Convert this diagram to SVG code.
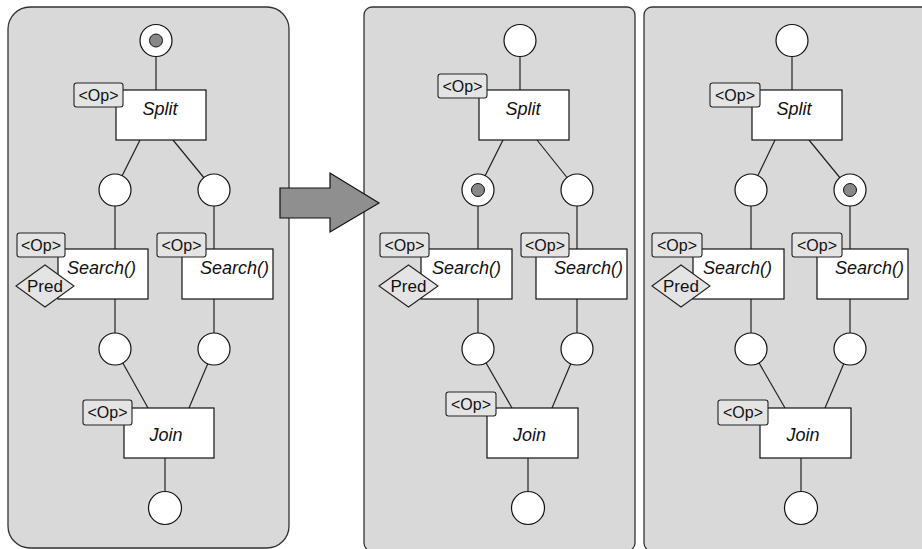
<svg xmlns="http://www.w3.org/2000/svg" width="922" height="549" viewBox="0 0 922 549">
<style>
.panel{fill:#d9d9d9;stroke:#333;stroke-width:1.3}
.box{fill:#fff;stroke:#111;stroke-width:1.2}
.tag{fill:#e4e4e4;stroke:#222;stroke-width:1.1}
.place{fill:#fff;stroke:#111;stroke-width:1.2}
.tok{fill:#888;stroke:#111;stroke-width:1}
.conn line{stroke:#222;stroke-width:1.2}
.lbl{font-family:"Liberation Sans",Arial,sans-serif;font-style:italic;font-size:18px;fill:#111}
.tt{font-family:"Liberation Sans",Arial,sans-serif;font-size:16px;fill:#111;text-anchor:middle}
.pt{font-family:"Liberation Sans",Arial,sans-serif;font-size:17px;fill:#111;text-anchor:middle}
</style>
<rect width="922" height="549" fill="#fff"/>
<g id="panels">
<rect class="panel" x="8" y="7" width="281" height="541" rx="22"/>
<rect class="panel" x="364" y="7" width="271" height="544" rx="8"/>
<rect class="panel" x="644" y="7" width="290" height="544" rx="8"/>
</g>
<g class="conn" id="connectors">
<line x1="156" y1="40" x2="156" y2="90"/>
<line x1="140" y1="140" x2="115" y2="190"/>
<line x1="173" y1="140" x2="214" y2="190"/>
<line x1="115" y1="190" x2="115" y2="249"/>
<line x1="214" y1="190" x2="214" y2="249"/>
<line x1="115" y1="299" x2="115" y2="349"/>
<line x1="214" y1="299" x2="214" y2="349"/>
<line x1="115" y1="349" x2="148" y2="408"/>
<line x1="214" y1="349" x2="189" y2="408"/>
<line x1="165" y1="458" x2="165" y2="508"/>
<line x1="520" y1="40" x2="520" y2="90"/>
<line x1="503" y1="140" x2="478" y2="190"/>
<line x1="537" y1="140" x2="577" y2="190"/>
<line x1="478" y1="190" x2="478" y2="249"/>
<line x1="577" y1="190" x2="577" y2="249"/>
<line x1="478" y1="299" x2="478" y2="349"/>
<line x1="577" y1="299" x2="577" y2="349"/>
<line x1="478" y1="349" x2="512" y2="408"/>
<line x1="577" y1="349" x2="552" y2="408"/>
<line x1="528" y1="458" x2="528" y2="508"/>
<line x1="792" y1="40" x2="792" y2="90"/>
<line x1="775" y1="140" x2="751" y2="190"/>
<line x1="809" y1="140" x2="850" y2="190"/>
<line x1="751" y1="190" x2="751" y2="249"/>
<line x1="850" y1="190" x2="850" y2="249"/>
<line x1="751" y1="299" x2="751" y2="349"/>
<line x1="850" y1="299" x2="850" y2="349"/>
<line x1="751" y1="349" x2="785" y2="408"/>
<line x1="850" y1="349" x2="825" y2="408"/>
<line x1="801" y1="458" x2="801" y2="508"/>
</g>
<!-- Panel 1 -->
<g id="p1-start"><circle class="place" cx="156" cy="40.5" r="16"/><circle class="tok" cx="156" cy="40.5" r="6.5"/></g>
<g id="p1-split"><rect class="box" x="116" y="90" width="90" height="50"/><rect class="tag" x="74" y="83" width="49" height="24" rx="2.5"/><text class="tt" x="98.5" y="100.5">&lt;Op&gt;</text><text class="lbl" x="160" y="115" text-anchor="middle">Split</text></g>
<g id="p1-pl1"><circle class="place" cx="115" cy="190" r="16"/></g>
<g id="p1-pr1"><circle class="place" cx="214" cy="190" r="16"/></g>
<g id="p1-searchL"><rect class="box" x="58" y="249" width="90" height="50"/><rect class="tag" x="17" y="233" width="48" height="24" rx="2.5"/><text class="tt" x="41" y="250.5">&lt;Op&gt;</text><text class="lbl" x="67" y="274">Search()</text><polygon class="tag" points="16,286 45,265 74,286 45,307"/><text class="pt" x="45" y="292">Pred</text></g>
<g id="p1-searchR"><rect class="box" x="182" y="249" width="91" height="50"/><rect class="tag" x="157" y="233" width="49" height="24" rx="2.5"/><text class="tt" x="181.5" y="250.5">&lt;Op&gt;</text><text class="lbl" x="200" y="274">Search()</text></g>
<g id="p1-pl2"><circle class="place" cx="115" cy="349" r="16"/></g>
<g id="p1-pr2"><circle class="place" cx="214" cy="349" r="16"/></g>
<g id="p1-join"><rect class="box" x="124" y="408" width="90" height="50"/><rect class="tag" x="83" y="400" width="49" height="25" rx="2.5"/><text class="tt" x="107.5" y="418">&lt;Op&gt;</text><text class="lbl" x="166" y="441" text-anchor="middle">Join</text></g>
<g id="p1-end"><circle class="place" cx="165" cy="508" r="16.5"/></g>
<!-- Arrow -->
<g id="arrow"><polygon points="280,188 330,188 330,173 379,203 330,232 330,218 280,218" fill="#8f8f8f" stroke="#111" stroke-width="1.2"/></g>
<!-- Panel 2 -->
<g id="p2-start"><circle class="place" cx="520" cy="40.5" r="16"/></g>
<g id="p2-split"><rect class="box" x="479" y="90" width="90" height="50"/><rect class="tag" x="438" y="74" width="49" height="24" rx="2.5"/><text class="tt" x="462.5" y="91.5">&lt;Op&gt;</text><text class="lbl" x="523" y="115" text-anchor="middle">Split</text></g>
<g id="p2-pl1"><circle class="place" cx="478" cy="190" r="16"/><circle class="tok" cx="478" cy="190" r="6.5"/></g>
<g id="p2-pr1"><circle class="place" cx="577" cy="190" r="16"/></g>
<g id="p2-searchL"><rect class="box" x="421" y="249" width="91" height="50"/><rect class="tag" x="380" y="233" width="49" height="24" rx="2.5"/><text class="tt" x="404.5" y="250.5">&lt;Op&gt;</text><text class="lbl" x="432" y="274">Search()</text><polygon class="tag" points="379,286 408.5,265 438,286 408.5,307"/><text class="pt" x="408.5" y="292">Pred</text></g>
<g id="p2-searchR"><rect class="box" x="536" y="249" width="91" height="50"/><rect class="tag" x="521" y="233" width="48" height="24" rx="2.5"/><text class="tt" x="545" y="250.5">&lt;Op&gt;</text><text class="lbl" x="554" y="274">Search()</text></g>
<g id="p2-pl2"><circle class="place" cx="478" cy="349" r="16"/></g>
<g id="p2-pr2"><circle class="place" cx="577" cy="349" r="16"/></g>
<g id="p2-join"><rect class="box" x="487" y="408" width="91" height="50"/><rect class="tag" x="446" y="392" width="50" height="24" rx="2.5"/><text class="tt" x="471" y="409.5">&lt;Op&gt;</text><text class="lbl" x="529.5" y="441" text-anchor="middle">Join</text></g>
<g id="p2-end"><circle class="place" cx="528" cy="508" r="16.5"/></g>
<!-- Panel 3 -->
<g id="p3-start"><circle class="place" cx="792" cy="40.5" r="16"/></g>
<g id="p3-split"><rect class="box" x="752" y="90" width="90" height="50"/><rect class="tag" x="710" y="83" width="50" height="24" rx="2.5"/><text class="tt" x="735" y="100.5">&lt;Op&gt;</text><text class="lbl" x="794" y="115" text-anchor="middle">Split</text></g>
<g id="p3-pl1"><circle class="place" cx="751" cy="190" r="16"/></g>
<g id="p3-pr1"><circle class="place" cx="850" cy="190" r="16"/><circle class="tok" cx="850" cy="190" r="6.5"/></g>
<g id="p3-searchL"><rect class="box" x="693" y="249" width="91" height="50"/><rect class="tag" x="652" y="233" width="50" height="24" rx="2.5"/><text class="tt" x="677" y="250.5">&lt;Op&gt;</text><text class="lbl" x="703" y="274">Search()</text><polygon class="tag" points="652,286 681,265 710,286 681,307"/><text class="pt" x="681" y="292">Pred</text></g>
<g id="p3-searchR"><rect class="box" x="817" y="249" width="91" height="50"/><rect class="tag" x="792" y="233" width="50" height="24" rx="2.5"/><text class="tt" x="817" y="250.5">&lt;Op&gt;</text><text class="lbl" x="835" y="274">Search()</text></g>
<g id="p3-pl2"><circle class="place" cx="751" cy="349" r="16"/></g>
<g id="p3-pr2"><circle class="place" cx="850" cy="349" r="16"/></g>
<g id="p3-join"><rect class="box" x="760" y="408" width="91" height="50"/><rect class="tag" x="718" y="400" width="50" height="25" rx="2.5"/><text class="tt" x="743" y="418">&lt;Op&gt;</text><text class="lbl" x="803" y="441" text-anchor="middle">Join</text></g>
<g id="p3-end"><circle class="place" cx="801" cy="508" r="16.5"/></g>
</svg>
